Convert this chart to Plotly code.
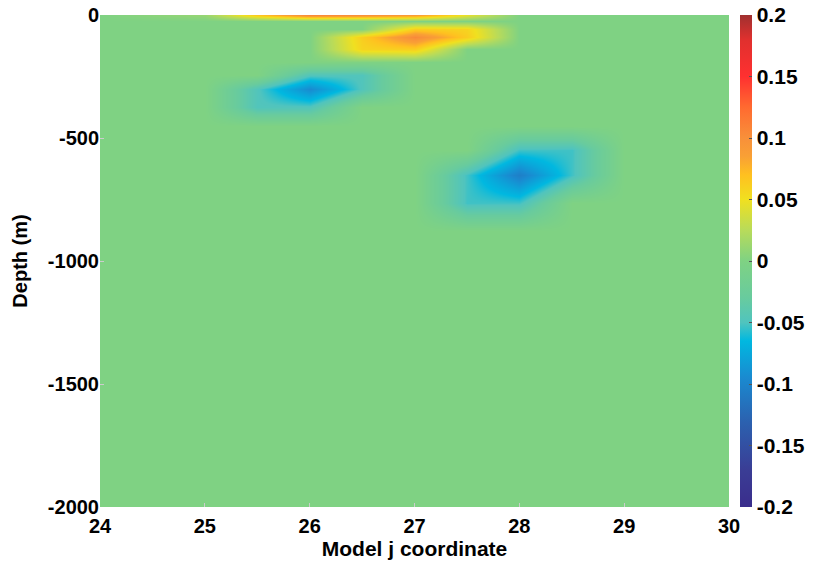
import plotly.graph_objects as go

# Model j coordinate positions (columns) and depth positions (rows) at which the field is read
j_coord = [24, 25, 25.5, 26, 26.5, 27, 27.5, 28, 28.5, 29, 30]
depth = [0, -25, -55, -90, -140, -190, -245, -300, -375, -450,
         -550, -650, -765, -880, -1200, -1600, -2000]

# field values, one row per depth, one column per j
z_values = [
    [0, 0.01, 0.065, 0.105, 0.1, 0.09, 0.045, 0, 0, 0, 0],        # 0
    [0, 0, 0, 0, 0, 0, 0, 0, 0, 0, 0],                            # -25
    [0, 0, 0, 0, 0, 0.062, 0.058, 0, 0, 0, 0],                    # -55
    [0, 0, 0, 0, 0.062, 0.105, 0.062, 0, 0, 0, 0],                # -90
    [0, 0, 0, 0, 0.058, 0.062, 0, 0, 0, 0, 0],                    # -140
    [0, 0, 0, 0, 0, 0, 0, 0, 0, 0, 0],                            # -190
    [0, 0, 0, -0.048, -0.048, 0, 0, 0, 0, 0, 0],                  # -245
    [0, 0, -0.048, -0.095, -0.048, 0, 0, 0, 0, 0, 0],             # -300
    [0, 0, -0.048, -0.048, 0, 0, 0, 0, 0, 0, 0],                  # -375
    [0, 0, 0, 0, 0, 0, 0, 0, 0, 0, 0],                            # -450
    [0, 0, 0, 0, 0, 0, 0, -0.053, -0.053, 0, 0],                  # -550
    [0, 0, 0, 0, 0, 0, -0.053, -0.105, -0.053, 0, 0],             # -650
    [0, 0, 0, 0, 0, 0, -0.053, -0.053, 0, 0, 0],                  # -765
    [0, 0, 0, 0, 0, 0, 0, 0, 0, 0, 0],                            # -880
    [0, 0, 0, 0, 0, 0, 0, 0, 0, 0, 0],                            # -1200
    [0, 0, 0, 0, 0, 0, 0, 0, 0, 0, 0],                            # -1600
    [0, 0, 0, 0, 0, 0, 0, 0, 0, 0, 0],                            # -2000
]

x_ticks = [24, 25, 26, 27, 28, 29, 30]
y_ticks = [0, -500, -1000, -1500, -2000]
cb_ticks = [0.2, 0.15, 0.1, 0.05, 0, -0.05, -0.1, -0.15, -0.2]
cb_labels = ["0.2", "0.15", "0.1", "0.05", "0", "-0.05", "-0.1", "-0.15", "-0.2"]

colorscale = [
    [0.0, "#3a2d8c"],
    [0.075, "#3a3d95"],
    [0.175, "#2b62b0"],
    [0.2625, "#1a8ad0"],
    [0.3375, "#00b8e0"],
    [0.375, "#50c4be"],
    [0.425, "#68cb9e"],
    [0.5, "#7fd283"],
    [0.5625, "#b8db5a"],
    [0.625, "#f0e020"],
    [0.675, "#ffc020"],
    [0.7125, "#f9a035"],
    [0.75, "#f8903a"],
    [0.8125, "#ff6a30"],
    [0.875, "#ff3030"],
    [0.95, "#e0302e"],
    [1.0, "#a0302f"],
]

FONT = "Liberation Sans, Arial, sans-serif"

fig = go.Figure(
    go.Heatmap(
        x=j_coord,
        y=depth,
        z=z_values,
        zmin=-0.2,
        zmax=0.2,
        zsmooth="best",
        colorscale=colorscale,
        colorbar=dict(
            x=1.0175,
            xanchor="left",
            xpad=0,
            y=0.5,
            yanchor="middle",
            len=1.0,
            lenmode="fraction",
            ypad=0,
            thickness=12,
            outlinewidth=0,
            tickvals=cb_ticks,
            ticktext=cb_labels,
            ticks="inside",
            ticklen=3,
            tickcolor="#555555",
            tickfont=dict(family=FONT, size=21, color="black", weight="bold"),
        ),
    )
)

fig.update_layout(
    width=814,
    height=566,
    margin=dict(l=100, r=85, t=15, b=59, autoexpand=False),
    paper_bgcolor="white",
    plot_bgcolor="white",
    xaxis=dict(
        range=[24, 30],
        tickvals=x_ticks,
        ticktext=[str(v) for v in x_ticks],
        ticks="inside",
        ticklen=4,
        tickcolor="#cccccc",
        ticklabelstandoff=5,
        showgrid=False,
        zeroline=False,
        showline=False,
        tickfont=dict(family=FONT, size=20, color="black", weight="bold"),
        title=dict(text="Model j coordinate", standoff=3,
                   font=dict(family=FONT, size=21, color="black", weight="bold")),
    ),
    yaxis=dict(
        range=[-2000, 0],
        tickvals=y_ticks,
        ticktext=[str(v) for v in y_ticks],
        ticks="inside",
        ticklen=4,
        tickcolor="#cccccc",
        showgrid=False,
        zeroline=False,
        showline=False,
        tickfont=dict(family=FONT, size=20, color="black", weight="bold"),
        title=dict(text="Depth (m)", standoff=14,
                   font=dict(family=FONT, size=20, color="black", weight="bold")),
    ),
)

fig.write_html("out.html")
